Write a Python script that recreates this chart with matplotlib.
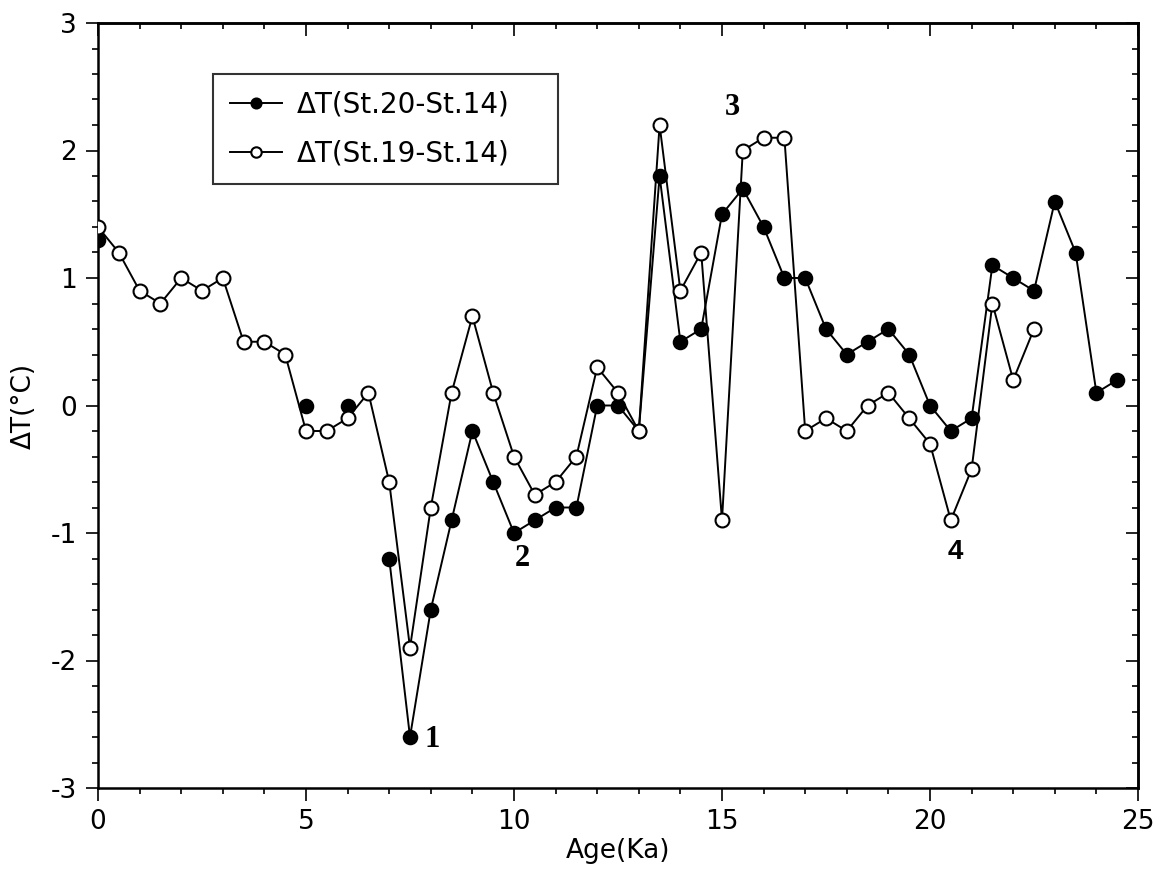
import numpy as np
import matplotlib
matplotlib.use("Agg")
import matplotlib.pyplot as plt
from matplotlib.ticker import MultipleLocator

plt.rcParams["axes.unicode_minus"] = False

# ---- data ----
age = np.arange(0, 25.0, 0.5)  # 0 .. 24.5

# ΔT(St.20-St.14)  (filled); NaN = no value
dt20 = [1.3, np.nan, np.nan, np.nan, np.nan, np.nan, np.nan, np.nan, np.nan, np.nan,
        0.0, np.nan, 0.0, np.nan, -1.2, -2.6, -1.6, -0.9, -0.2, -0.6,
        -1.0, -0.9, -0.8, -0.8, 0.0, 0.0, -0.2, 1.8, 0.5, 0.6,
        1.5, 1.7, 1.4, 1.0, 1.0, 0.6, 0.4, 0.5, 0.6, 0.4,
        0.0, -0.2, -0.1, 1.1, 1.0, 0.9, 1.6, 1.2, 0.1, 0.2]

# ΔT(St.19-St.14)  (open)
dt19 = [1.4, 1.2, 0.9, 0.8, 1.0, 0.9, 1.0, 0.5, 0.5, 0.4,
        -0.2, -0.2, -0.1, 0.1, -0.6, -1.9, -0.8, 0.1, 0.7, 0.1,
        -0.4, -0.7, -0.6, -0.4, 0.3, 0.1, -0.2, 2.2, 0.9, 1.2,
        -0.9, 2.0, 2.1, 2.1, -0.2, -0.1, -0.2, 0.0, 0.1, -0.1,
        -0.3, -0.9, -0.5, 0.8, 0.2, 0.6, np.nan, np.nan, np.nan, np.nan]

labels = ["ΔT(St.20-St.14)", "ΔT(St.19-St.14)"]
events = ["1", "2", "3", "4"]
event_x = [8.03, 10.19, 15.26, 20.6]
event_y = [-2.62, -1.2, 2.34, -1.15]

# ---- figure ----
W, H = 1162, 874
fig = plt.figure(figsize=(W / 100, H / 100), dpi=100)
L, R, T, B = 98, 1138, 23, 788
ax = fig.add_axes([L / W, 1 - B / H, (R - L) / W, (B - T) / H])

lw = 1.4
ax.plot(age, dt20, color="black", lw=lw, marker="o", ms=10,
        mfc="black", mec="black", mew=1.2, label=labels[0], zorder=3)
ax.plot(age, dt19, color="black", lw=lw, marker="o", ms=10,
        mfc="white", mec="black", mew=1.5, label=labels[1], zorder=4)

ax.set_xlim(0, 25)
ax.set_ylim(-3, 3)
ax.xaxis.set_major_locator(MultipleLocator(5))
ax.xaxis.set_minor_locator(MultipleLocator(1))
ax.yaxis.set_major_locator(MultipleLocator(1))
ax.yaxis.set_minor_locator(MultipleLocator(0.2))

fs = 19
ax.tick_params(which="both", direction="out", labelsize=fs, width=1.2,
               top=False, right=False)
ax.tick_params(which="major", length=9, pad=6)
ax.tick_params(which="minor", length=4)
for s in ax.spines.values():
    s.set_linewidth(1.8)

# inward ticks on top and right
secx = ax.secondary_xaxis("top")
secx.xaxis.set_major_locator(MultipleLocator(5))
secx.xaxis.set_minor_locator(MultipleLocator(1))
secx.tick_params(which="both", direction="in", labeltop=False, width=1.2)
secx.tick_params(which="major", length=9)
secx.tick_params(which="minor", length=4)
secx.spines["top"].set_linewidth(1.8)
secy = ax.secondary_yaxis("right")
secy.yaxis.set_major_locator(MultipleLocator(1))
secy.yaxis.set_minor_locator(MultipleLocator(0.2))
secy.tick_params(which="both", direction="in", labelright=False, width=1.2)
secy.tick_params(which="major", length=9)
secy.tick_params(which="minor", length=4)
secy.spines["right"].set_linewidth(1.8)

ax.set_xlabel("Age(Ka)", fontsize=fs, labelpad=2)
ax.set_ylabel("ΔT(°C)", fontsize=fs, labelpad=10)

# legend
x0 = (213 - L) / (R - L)
y1 = (B - 74) / (B - T)
w = (558 - 213) / (R - L)
h = (181 - 74) / (B - T)
leg = ax.legend(loc="upper left", bbox_to_anchor=(x0, y1 - h, w, h), mode="expand",
                fontsize=20, frameon=True, fancybox=False, edgecolor="black",
                handlelength=1.9, handletextpad=0.5, borderpad=0.6,
                labelspacing=0.75, markerscale=0.75, borderaxespad=0)
leg.get_frame().set_linewidth(1.5)

# event annotations
for i, (lab, ex, ey) in enumerate(zip(events, event_x, event_y)):
    fam = "Liberation Sans" if i == 3 else "Liberation Serif"
    size = 20 if i == 3 else 22
    ax.text(ex, ey, lab, ha="center", va="center", fontsize=size,
            fontweight="bold", family=fam, zorder=5)

fig.savefig("out.png", dpi=100)
